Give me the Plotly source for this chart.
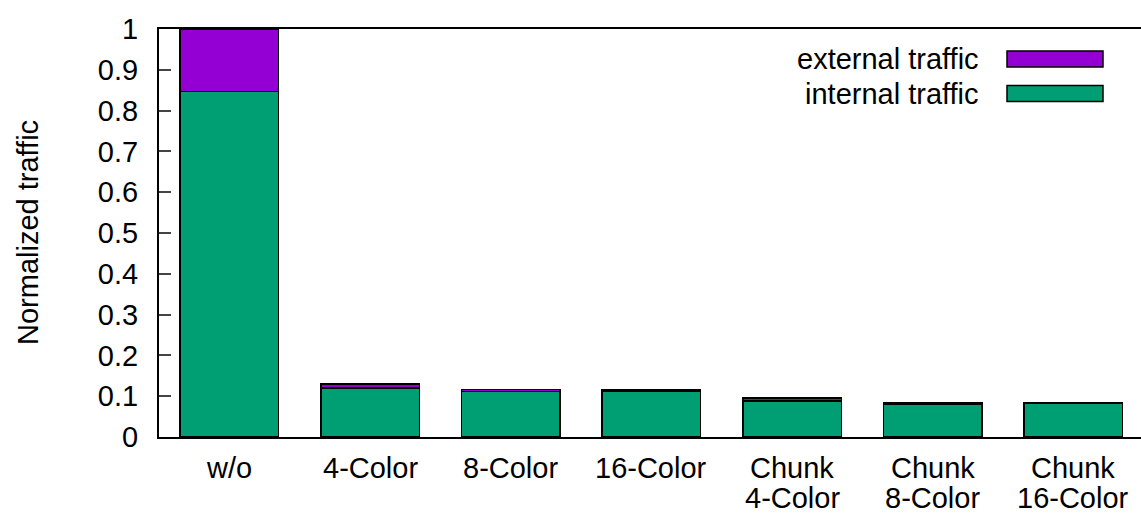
import plotly.graph_objects as go

# Normalized traffic per coloring scheme
categories = ["w/o", "4-Color", "8-Color", "16-Color",
              "Chunk\n4-Color", "Chunk\n8-Color", "Chunk\n16-Color"]
internal_traffic = [0.847, 0.120, 0.112, 0.113, 0.088, 0.081, 0.083]
external_traffic = [0.153, 0.010, 0.004, 0.002, 0.007, 0.004, 0.001]
y_ticks = [0, 0.1, 0.2, 0.3, 0.4, 0.5, 0.6, 0.7, 0.8, 0.9, 1]

GREEN = "#009E73"
PURPLE = "#9400D3"
FONT = "Liberation Sans, Arial, sans-serif"
FS = 29

W, H = 1141, 516
L, R, T, B = 159, 0, 29, 79
PW, PH = W - L - R, H - T - B


def px_x(px):
    """Horizontal pixel -> paper coordinate."""
    return (px - L) / PW


def px_y(py):
    """Vertical pixel (from top) -> paper coordinate."""
    return 1 - (py - T) / PH


xs = list(range(len(categories)))
fig = go.Figure()
fig.add_trace(go.Bar(x=xs, y=internal_traffic, name="internal traffic",
                     marker=dict(color=GREEN, line=dict(color="black", width=1.5)),
                     width=0.7))
fig.add_trace(go.Bar(x=xs, y=external_traffic, name="external traffic",
                     marker=dict(color=PURPLE, line=dict(color="black", width=1.5)),
                     width=0.7))

annotations = []
# Category labels, one annotation per text line (bottom-anchored rows)
row_bottoms = [485, 515]
for i, lab in enumerate(categories):
    for j, line in enumerate(lab.split("\n")):
        annotations.append(dict(x=i, y=px_y(row_bottoms[j]), xref="x", yref="paper",
                                text=line, showarrow=False,
                                xanchor="center", yanchor="bottom",
                                borderpad=0,
                                font=dict(family=FONT, size=FS, color="black")))

# Y axis title
annotations.append(dict(x=px_x(28), y=0.5, xref="paper", yref="paper",
                        text="Normalized traffic", textangle=-90, showarrow=False,
                        xanchor="center", yanchor="middle",
                        font=dict(family=FONT, size=FS, color="black")))

# Key: right-aligned text with a swatch box beside it
legend_rows = [("external traffic", PURPLE), ("internal traffic", GREEN)]
shapes = []
for k, (txt, col) in enumerate(legend_rows):
    yc = 59 + 34.5 * k
    annotations.append(dict(x=px_x(981), y=px_y(yc), xref="paper", yref="paper",
                            text=txt, showarrow=False,
                            xanchor="right", yanchor="middle",
                            font=dict(family=FONT, size=FS, color="black")))
    shapes.append(dict(type="rect", xref="paper", yref="paper",
                       x0=px_x(1007), x1=px_x(1103),
                       y0=px_y(yc + 8), y1=px_y(yc - 8),
                       fillcolor=col, line=dict(color="black", width=1.5)))

fig.update_layout(
    barmode="stack",
    width=W, height=H,
    margin=dict(l=L, r=R, t=T, b=B, pad=0),
    paper_bgcolor="white", plot_bgcolor="white",
    showlegend=False,
    font=dict(family=FONT, size=FS, color="black"),
    annotations=annotations,
    shapes=shapes,
    xaxis=dict(range=[-0.5, 6.48], showticklabels=False, ticks="",
               showline=True, linecolor="black", linewidth=2, mirror=True,
               showgrid=False, zeroline=False, fixedrange=True),
    yaxis=dict(range=[0, 1], tickvals=y_ticks,
               ticktext=[f"{v:g}" for v in y_ticks],
               ticks="inside", ticklen=12, tickwidth=1.5, tickcolor="#444",
               ticklabelstandoff=13,
               showline=True, linecolor="black", linewidth=2,
               showgrid=False, zeroline=False,
               tickfont=dict(family=FONT, size=FS, color="black")),
)

fig.write_html("out.html")
